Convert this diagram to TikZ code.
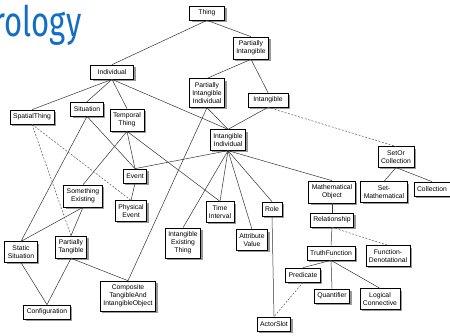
\documentclass[tikz,border=0pt]{standalone}
\usepackage{fontspec}
\usepackage{tikz}
\usetikzlibrary{shadows}
\usepackage{xcolor}
\newfontfamily\boxfont{Liberation Sans}
\newfontfamily\titlefont{Fira Sans}
\definecolor{titleblue}{RGB}{18,110,196}

\begin{document}
\begin{tikzpicture}[x=1pt,y=-1pt,
  cls/.style={draw=black,line width=0.7pt,fill=white,align=center,
    inner xsep=3pt,inner ysep=3.8pt,minimum height=14pt,
    font=\boxfont\fontsize{6.8}{8}\selectfont,
    drop shadow={shadow xshift=2pt,shadow yshift=-2pt,fill=black!40,opacity=1}},
  isa/.style={draw=black!80,line width=0.5pt},
  maybe/.style={draw=black!65,line width=0.5pt,dash pattern=on 2pt off 1.5pt}]
  \useasboundingbox (0,0) rectangle (450,336);
  \node[anchor=base west,text=titleblue,inner sep=0pt,xscale=0.74,transform shape,
    font=\titlefont\fontsize{42}{42}\selectfont] (title) at (-6.5,37) {rology};

  %%%%%%% TOP
  \node[cls,minimum width=35pt] (thing) at (207,13) {Thing};
  \node[cls] (partint) at (251,48) {Partially\\Intangible};
  \node[cls] (partintind) at (207,93) {Partially\\Intangible\\Individual};
  \node[cls,minimum width=40pt] (intangible) at (268,100) {Intangible};
  \node[cls] (intind) at (228,140) {Intangible\\Individual};
  \node[cls] (setor) at (396,157) {SetOr\\Collection};
  \node[cls,minimum width=43pt] (individual) at (112,72) {Individual};

  %%%%%%% LEFT
  \node[cls] (spatial) at (32,117) {SpatialThing};
  \node[cls] (situation) at (87,109) {Situation};
  \node[cls] (temporal) at (127,120) {Temporal\\Thing};
  \node[cls] (event) at (135,176) {Event};
  \node[cls] (physev) at (131,211) {Physical\\Event};
  \node[cls] (someex) at (83,196) {Something\\Existing};
  \node[cls] (staticsit) at (21,252) {Static\\Situation};
  \node[cls] (parttang) at (71,247) {Partially\\Tangible};
  \node[cls] (config) at (47,312) {Configuration};
  \node[cls] (composite) at (128,296) {Composite\\TangibleAnd\\IntangibleObject};

  %%%%%%% RIGHT
  \node[cls] (intexist) at (183,243) {Intangible\\Existing\\Thing};
  \node[cls] (timeint) at (220,212) {Time\\Interval};
  \node[cls] (attrval) at (252,240) {Attribute\\Value};
  \node[cls] (role) at (272,209) {Role};
  \node[cls] (mathobj) at (332,192) {Mathematical\\Object};
  \node[cls] (setmath) at (384,192) {Set-\\Mathematical};
  \node[cls] (collection) at (432,189) {Collection};
  \node[cls] (relationship) at (332,220) {Relationship};
  \node[cls] (truthfn) at (331,253) {TruthFunction};
  \node[cls] (fndenot) at (388,256) {Function-\\Denotational};
  \node[cls] (predicate) at (303,275) {Predicate};
  \node[cls] (quantifier) at (332,296) {Quantifier};
  \node[cls] (logconn) at (380,299) {Logical\\Connective};
  \node[cls] (actorslot) at (274,324) {ActorSlot};

  %%%%%%% LINKS
  \foreach \a/\b in {thing/individual,thing/partint,partint/partintind,partint/intangible,
    individual/spatial,individual/situation,individual/temporal,individual/intind,
    partintind/intind,partintind/composite,intangible/intind,
    intind/event,intind/intexist,intind/timeint,intind/attrval,intind/role,intind/mathobj,
    situation/event,situation/staticsit,temporal/event,temporal/someex,temporal/timeint,
    event/physev,someex/staticsit,someex/parttang,staticsit/config,parttang/config,
    parttang/composite,setor/setmath,setor/collection,mathobj/relationship,
    relationship/truthfn,truthfn/predicate,truthfn/quantifier,truthfn/logconn,role/actorslot}
    \draw[isa] (\a.south) -- (\b.north);
  % dashed ones
  \draw[maybe] (intangible.south) -- (setor.north);
  \draw[maybe] (spatial.south) -- (parttang.north);
  \draw[maybe] (spatial.south) -- (physev.north);
  \draw[maybe] (relationship.south) -- (fndenot.north);
  \draw[maybe] (predicate.south) -- (actorslot.north);
\end{tikzpicture}
\end{document}
